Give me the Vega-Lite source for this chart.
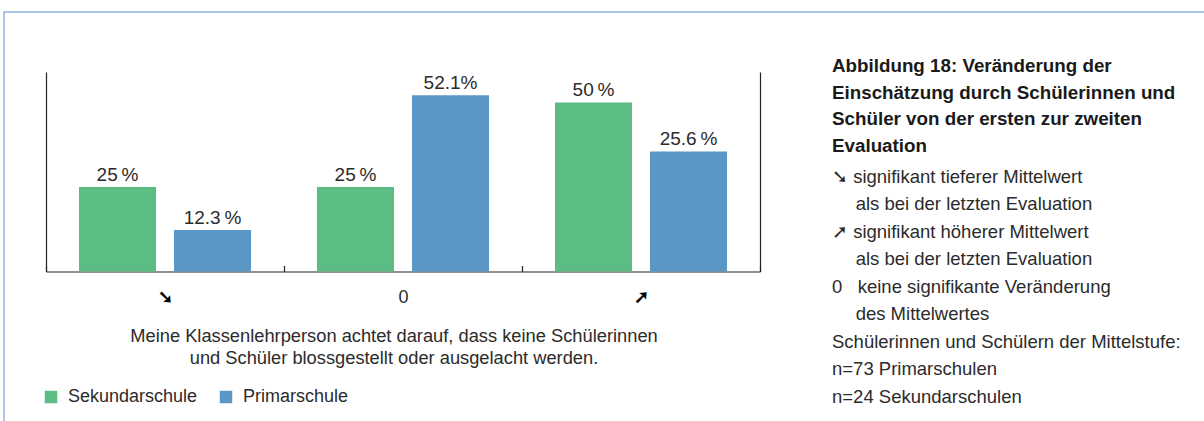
{
  "$schema": "https://vega.github.io/schema/vega-lite/v6.json",
  "width": 1202,
  "height": 411,
  "autosize": {"type": "none"},
  "padding": {"left": 4, "top": 12, "right": -2, "bottom": -2},
  "background": "#ffffff",
  "config": {
    "font": "Liberation Sans",
    "view": {"stroke": "#8fb3e0", "strokeWidth": 1.5},
    "axis": {"grid": false, "domainColor": "#222222", "domainWidth": 1.2, "labelColor": "#2b2b2b", "titleColor": "#2b2b2b"}
  },
  "title": {
    "text": ["Abbildung 18: Veränderung der", "Einschätzung durch Schülerinnen und", "Schüler von der ersten zur zweiten", "Evaluation"],
    "subtitle": [
      "➘ signifikant tieferer Mittelwert",
      "\u200b\u2002\u2002\u00a0als bei der letzten Evaluation",
      "➚ signifikant höherer Mittelwert",
      "\u200b\u2002\u2002\u00a0als bei der letzten Evaluation",
      "0\u00a0\u00a0\u00a0keine signifikante Veränderung",
      "\u200b\u2002\u2002\u00a0des Mittelwertes",
      "Schülerinnen und Schülern der Mittelstufe:",
      "n=73 Primarschulen",
      "n=24 Sekundarschulen"
    ],
    "orient": "top",
    "anchor": "start",
    "frame": "group",
    "align": "left",
    "dx": 828,
    "dy": 398,
    "font": "Liberation Sans",
    "fontSize": 18.8,
    "fontWeight": "bold",
    "lineHeight": 26.5,
    "color": "#1a1a1a",
    "subtitleFont": "Liberation Sans",
    "subtitleFontSize": 18.5,
    "subtitleLineHeight": 27.5,
    "subtitleColor": "#2b2b2b",
    "subtitlePadding": 12
  },
  "data": {
    "values": [
      {"change": "➘", "school": "Sekundarschule", "value": 25, "label": "25\u2009%"},
      {"change": "➘", "school": "Primarschule", "value": 12.3, "label": "12.3\u2009%"},
      {"change": "0", "school": "Sekundarschule", "value": 25, "label": "25\u2009%"},
      {"change": "0", "school": "Primarschule", "value": 52.1, "label": "52.1%"},
      {"change": "➚", "school": "Sekundarschule", "value": 50, "label": "50\u2009%"},
      {"change": "➚", "school": "Primarschule", "value": 35.5, "label": "25.6\u2009%"}
    ]
  },
  "resolve": {"axis": {"y": "independent"}},
  "layer": [
    {
      "mark": {"type": "bar"},
      "encoding": {
        "x": {
          "field": "change", "type": "nominal", "sort": ["➘", "0", "➚"],
          "scale": {"range": [42, 756], "paddingInner": 0, "paddingOuter": 0},
          "axis": {
            "orient": "bottom", "offset": -151.5,
            "title": ["Meine Klassenlehrperson achtet darauf, dass keine Schülerinnen", "und Schüler blossgestellt oder ausgelacht werden."],
            "titleFontSize": 18.3, "titleFontWeight": "normal", "titleLineHeight": 21.5, "titlePadding": 21, "titleX": 389.5,
            "tickBand": "extent", "tickSize": -6, "tickColor": "#222222", "tickWidth": 1.2,
            "labelAngle": 0, "labelPadding": 23,
            "labelFontSize": 18,
            "labelFontWeight": {"condition": {"test": "datum.value === '0'", "value": "normal"}, "value": "bold"},
            "labelColor": {"condition": {"test": "datum.value === '0'", "value": "#2b2b2b"}, "value": "#000000"}
          }
        },
        "xOffset": {
          "field": "school", "type": "nominal", "sort": ["Sekundarschule", "Primarschule"],
          "scale": {"paddingInner": 0.189, "paddingOuter": 0.347}
        },
        "y": {
          "field": "value", "type": "quantitative",
          "scale": {"domain": [0, 59], "range": [259.5, 60], "nice": false},
          "axis": {"orient": "left", "offset": -42, "labels": false, "ticks": false, "title": null, "grid": false}
        },
        "color": {
          "field": "school", "type": "nominal",
          "scale": {"domain": ["Sekundarschule", "Primarschule"], "range": ["#5bbd83", "#5a97c4"]},
          "legend": {
            "orient": "none", "legendX": 38, "legendY": 376, "direction": "horizontal",
            "title": null, "symbolType": "square", "symbolSize": 156, "symbolStrokeWidth": 0,
            "symbolOpacity": 1, "labelFontSize": 18, "labelColor": "#2b2b2b", "labelOffset": 8, "columnPadding": 19
          }
        }
      }
    },
    {
      "mark": {"type": "text", "baseline": "alphabetic", "dy": -6, "fontSize": 19, "color": "#2b2b2b"},
      "encoding": {
        "x": {"field": "change", "type": "nominal", "sort": ["➘", "0", "➚"]},
        "xOffset": {"field": "school", "type": "nominal", "sort": ["Sekundarschule", "Primarschule"]},
        "y": {
          "field": "value", "type": "quantitative",
          "axis": {"orient": "right", "offset": -446, "labels": false, "ticks": false, "title": null, "grid": false}
        },
        "text": {"field": "label"}
      }
    }
  ]
}
